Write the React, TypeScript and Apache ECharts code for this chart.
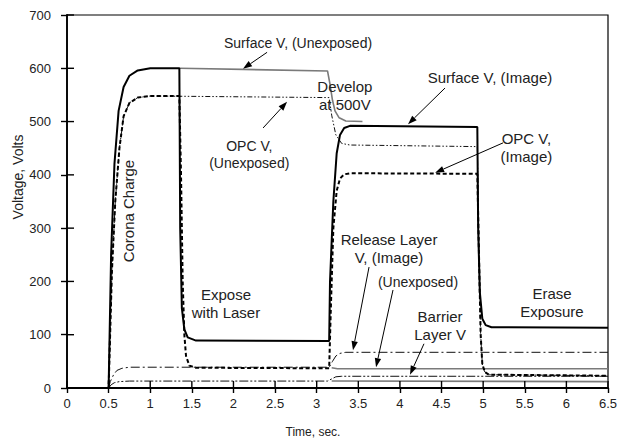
import React, { useEffect, useRef } from "react";
import * as echarts from "echarts";

// Time axis range (seconds) and voltage axis range (volts)
const xRange = [0, 6.5];
const xStep = 0.5;
const yRange = [0, 700];
const yStep = 100;

// Series: [time (s), voltage (V)]
const surfaceImage: [number, number][] = [
  [0, 0], [0.5, 0], [0.53, 250], [0.57, 420], [0.62, 520], [0.68, 565], [0.75, 586], [0.85, 596], [1.0, 600], [1.35, 600],
  [1.36, 300], [1.38, 150], [1.41, 110], [1.45, 95], [1.55, 89], [3.15, 88],
  [3.16, 200], [3.2, 350], [3.24, 440], [3.28, 475], [3.33, 488], [3.4, 492], [4.93, 490],
  [4.94, 300], [4.96, 180], [4.99, 130], [5.03, 118], [5.1, 114], [6.5, 113],
];
const surfaceUnexposed: [number, number][] = [
  [1.35, 600], [3.13, 595], [3.16, 570], [3.19, 540], [3.22, 520], [3.27, 507], [3.35, 501], [3.55, 500],
];
const opcUnexposed: [number, number][] = [
  [0, 0], [0.5, 0], [0.54, 220], [0.58, 350], [0.63, 450], [0.68, 510], [0.75, 535], [0.85, 545], [1.0, 548], [3.15, 545],
  [3.18, 512], [3.23, 475], [3.3, 459], [3.4, 456], [4.93, 453],
  [4.95, 260], [4.97, 100], [4.99, 45], [5.02, 30], [5.07, 25], [6.5, 23],
];
const opcImage: [number, number][] = [
  [0, 0], [0.5, 0], [0.54, 220], [0.58, 350], [0.63, 450], [0.68, 510], [0.75, 535], [0.85, 545], [1.0, 548], [1.35, 548],
  [1.37, 400], [1.39, 200], [1.41, 100], [1.43, 60], [1.47, 42], [1.55, 38], [3.15, 37],
  [3.17, 150], [3.2, 300], [3.24, 370], [3.28, 393], [3.33, 401], [3.4, 403], [4.93, 402],
  [4.95, 250], [4.97, 100], [4.99, 45], [5.02, 30], [5.07, 25], [6.5, 23],
];
const releaseImage: [number, number][] = [
  [0.5, 0], [0.52, 12], [0.56, 25], [0.6, 33], [0.66, 37], [0.75, 39], [3.15, 39],
  [3.19, 50], [3.23, 60], [3.28, 65], [3.35, 67], [6.5, 67],
];
const releaseUnexposed: [number, number][] = [
  [3.18, 38], [3.25, 36], [6.5, 36],
];
const barrierImage: [number, number][] = [
  [0.5, 0], [0.53, 6], [0.57, 10], [0.63, 12], [0.75, 13], [3.13, 13],
  [3.18, 17], [3.23, 21], [3.3, 22], [6.5, 22],
];
const barrierUnexposed: [number, number][] = [
  [3.18, 13], [6.5, 12],
];

// Annotation labels (text lines) and arrow anchors in data coordinates
const labels: { lines: string[]; at: [number, number]; size: number; rotate?: boolean }[] = [
  { lines: ["Surface V, (Unexposed)"], at: [2.776, 647], size: 14 },
  { lines: ["Develop", "at 500V"], at: [3.338, 549], size: 15 },
  { lines: ["Surface V, (Image)"], at: [5.082, 582], size: 15 },
  { lines: ["OPC V,", "(Image)"], at: [5.52, 451], size: 15 },
  { lines: ["OPC V,", "(Unexposed)"], at: [2.19, 439], size: 14 },
  { lines: ["Corona Charge"], at: [0.733, 332], size: 15, rotate: true },
  { lines: ["Expose", "with Laser"], at: [1.91, 159], size: 15 },
  { lines: ["Release Layer", "V, (Image)"], at: [3.869, 261], size: 15 },
  { lines: ["(Unexposed)"], at: [4.217, 199], size: 14 },
  { lines: ["Barrier", "Layer V"], at: [4.482, 118], size: 15 },
  { lines: ["Erase", "Exposure"], at: [5.827, 161], size: 15 },
];
const arrows: { from: [number, number]; to: [number, number] }[] = [
  { from: [2.404, 630], to: [2.115, 599] },
  { from: [2.356, 488], to: [2.644, 537] },
  { from: [4.542, 563], to: [4.097, 495] },
  { from: [5.239, 460], to: [4.423, 404] },
  { from: [3.629, 227], to: [3.436, 71] },
  { from: [3.917, 184], to: [3.713, 39] },
  { from: [4.289, 83], to: [4.121, 25] },
];

const FONT = '"Liberation Sans", Arial, Helvetica, sans-serif';

export default function App() {
  const ref = useRef<HTMLDivElement>(null);
  useEffect(() => {
    if (!ref.current) return;
    const chart = echarts.init(ref.current, undefined, { renderer: "svg" });
    const axisLine = { show: true, onZero: false, lineStyle: { color: "#000", width: 1.8 } };
    const tickStyle = { color: "#000", width: 1.4 };
    const lineSeries = (data: [number, number][], color: string, width: number, type: any, z: number) => ({
      type: "line",
      data,
      showSymbol: false,
      symbol: "none",
      smooth: false,
      lineStyle: { color, width, type },
      z,
      silent: true,
    });
    chart.setOption({
      animation: false,
      backgroundColor: "#fff",
      grid: {
        left: 67,
        right: 13,
        top: 15,
        bottom: 51,
        show: true,
        borderColor: "#000",
        borderWidth: 1.2,
        backgroundColor: "transparent",
      },
      xAxis: {
        type: "value",
        min: xRange[0],
        max: xRange[1],
        interval: xStep,
        splitLine: { show: false },
        axisLine,
        axisTick: { show: true, inside: false, length: 5, lineStyle: tickStyle },
        axisLabel: { show: true, margin: 9, fontSize: 13, fontFamily: FONT, color: "#222" },
      },
      yAxis: {
        type: "value",
        min: yRange[0],
        max: yRange[1],
        interval: yStep,
        splitLine: { show: false },
        axisLine,
        axisTick: { show: true, inside: false, length: 6, lineStyle: tickStyle },
        axisLabel: { show: true, margin: 16, fontSize: 13, fontFamily: FONT, color: "#222" },
      },
      series: [
        lineSeries(surfaceUnexposed, "#7a7a7a", 1.6, "solid", 2),
        lineSeries(releaseUnexposed, "#7a7a7a", 1.6, "solid", 2),
        lineSeries(barrierUnexposed, "#7a7a7a", 1.6, "solid", 2),
        lineSeries(opcUnexposed, "#111", 1, [5, 2, 1.5, 2, 1.5, 2], 3),
        lineSeries(releaseImage, "#111", 1, [9, 3, 2, 3], 3),
        lineSeries(barrierImage, "#111", 1, [9, 2, 2, 2, 2, 2], 3),
        lineSeries(opcImage, "#000", 2, [4, 2.5], 4),
        lineSeries(surfaceImage, "#000", 2, "solid", 5),
      ],
    });

    const toPx = (p: [number, number]) =>
      chart.convertToPixel({ gridIndex: 0 }, p) as number[];

    const graphics: any[] = [];
    // inward halves of the crossing ticks, drawn as thin rects
    const xCount = Math.round((xRange[1] - xRange[0]) / xStep);
    for (let i = 0; i <= xCount; i++) {
      const v = xRange[0] + i * xStep;
      const [px, py] = toPx([v, yRange[0]]);
      graphics.push({
        type: "rect",
        z: 20,
        shape: { x: px - 0.7, y: py - 7, width: 1.4, height: 7 },
        style: { fill: "#000" },
      });
    }
    const yCount = Math.round((yRange[1] - yRange[0]) / yStep);
    for (let i = 0; i <= yCount; i++) {
      const v = yRange[0] + i * yStep;
      const [px, py] = toPx([xRange[0], v]);
      graphics.push({
        type: "rect",
        z: 20,
        shape: { x: px, y: py - 0.7, width: 7, height: 1.4 },
        style: { fill: "#000" },
      });
    }
    labels.forEach((lb) => {
      const [px, py] = toPx(lb.at);
      graphics.push({
        type: "text",
        x: px,
        y: py,
        rotation: lb.rotate ? Math.PI / 2 : 0,
        z: 10,
        style: {
          text: lb.lines.join("\n"),
          font: `${lb.size}px ${FONT}`,
          fill: "#222",
          align: "center",
          verticalAlign: "middle",
          textAlign: "center",
          textVerticalAlign: "middle",
          lineHeight: lb.size + 3,
        },
      });
    });
    arrows.forEach((a) => {
      const p0 = toPx(a.from);
      const p1 = toPx(a.to);
      const dx = p1[0] - p0[0];
      const dy = p1[1] - p0[1];
      const len = Math.sqrt(dx * dx + dy * dy) || 1;
      const ux = dx / len;
      const uy = dy / len;
      const headLen = 9;
      const headW = 3.2;
      const bx = p1[0] - ux * headLen;
      const by = p1[1] - uy * headLen;
      graphics.push({
        type: "line",
        z: 10,
        shape: { x1: p0[0], y1: p0[1], x2: bx, y2: by },
        style: { stroke: "#000", lineWidth: 1 },
      });
      graphics.push({
        type: "polygon",
        z: 10,
        shape: {
          points: [
            [p1[0], p1[1]],
            [bx - uy * headW, by + ux * headW],
            [bx + uy * headW, by - ux * headW],
          ],
        },
        style: { fill: "#000" },
      });
    });
    // axis titles
    graphics.push({
      type: "text",
      x: 313,
      y: 432,
      z: 10,
      style: {
        text: "Time, sec.",
        font: `12px ${FONT}`,
        fill: "#222",
        align: "center",
        verticalAlign: "middle",
        textAlign: "center",
        textVerticalAlign: "middle",
      },
    });
    graphics.push({
      type: "text",
      x: 18,
      y: 177,
      rotation: Math.PI / 2,
      z: 10,
      style: {
        text: "Voltage, Volts",
        font: `14px ${FONT}`,
        fill: "#222",
        align: "center",
        verticalAlign: "middle",
        textAlign: "center",
        textVerticalAlign: "middle",
      },
    });
    chart.setOption({ graphic: graphics });

    return () => chart.dispose();
  }, []);
  return (
    <div
      ref={ref}
      style={{ position: "fixed", left: 0, top: 0, width: 621, height: 439, background: "#fff" }}
    />
  );
}
